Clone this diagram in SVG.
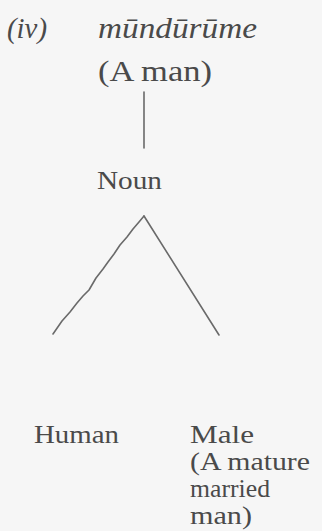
<svg xmlns="http://www.w3.org/2000/svg" width="322" height="531" viewBox="0 0 322 531">
<style>
.t{font-family:"Liberation Serif","DejaVu Serif",serif;font-size:26px;fill:#4a4a4a}
.s{font-size:25px}
.i{font-style:italic}
.big{font-size:29px}
.ln{stroke:#6a6a6a;stroke-width:1.6;fill:none;stroke-linecap:round;stroke-linejoin:round}
</style>
<rect width="322" height="531" fill="#f6f6f6"/>
<g id="label-iv"><text class="t i big" x="7" y="38" textLength="40" lengthAdjust="spacingAndGlyphs">(iv)</text></g>
<g id="node-word"><text class="t i big" x="98" y="38" textLength="159" lengthAdjust="spacingAndGlyphs">mūndūrūme</text>
<text class="t big" x="98" y="81" textLength="114" lengthAdjust="spacingAndGlyphs">(A man)</text></g>
<g id="node-noun"><text class="t" x="97" y="189" textLength="65" lengthAdjust="spacingAndGlyphs">Noun</text></g>
<g id="node-human"><text class="t" x="34" y="443" textLength="85" lengthAdjust="spacingAndGlyphs">Human</text></g>
<g id="node-male"><text class="t" x="190" y="443" textLength="64" lengthAdjust="spacingAndGlyphs">Male</text>
<text class="t s" x="190" y="470" textLength="120" lengthAdjust="spacingAndGlyphs">(A mature</text>
<text class="t s" x="190" y="497" textLength="80" lengthAdjust="spacingAndGlyphs">married</text>
<text class="t s" x="190" y="524" textLength="62" lengthAdjust="spacingAndGlyphs">man)</text></g>
<g id="connectors">
<line class="ln" x1="144" y1="92" x2="144" y2="148"/>
<polyline class="ln" points="53,334 62,321 70,312 77,303 83,296 89,290 96,278 103,269 108,262 114,254 120,245 127,237 133,229 139,222 144,216"/>
<line class="ln" x1="144" y1="216" x2="219" y2="335"/>
</g>
</svg>
